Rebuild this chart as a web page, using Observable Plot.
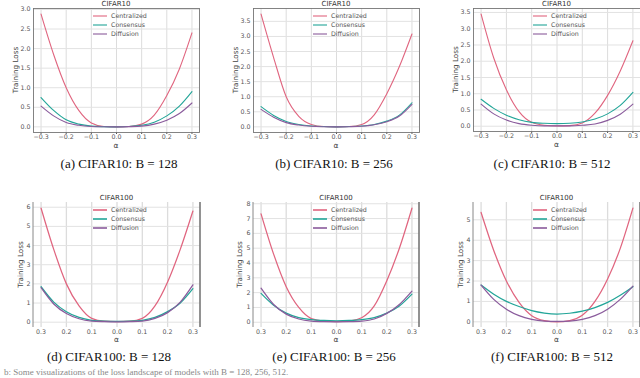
<!DOCTYPE html>
<html><head><meta charset="utf-8">
<script src="https://cdn.jsdelivr.net/npm/d3@7"></script>
<script src="https://cdn.jsdelivr.net/npm/@observablehq/plot@0.6"></script>
<style>
body{margin:0;background:#fff;}
#root{position:relative;width:640px;height:378px;overflow:hidden;background:#fff;}
.panel{position:absolute;}
.panel svg{overflow:visible;display:block;}
.cap{position:absolute;width:200px;text-align:center;font-family:"Liberation Serif","Times New Roman",serif;font-size:13px;line-height:16px;color:#111;white-space:nowrap;}
.foot{position:absolute;left:4px;top:367px;font-family:"Liberation Serif",serif;font-size:9px;line-height:10px;color:#888;white-space:nowrap;}
</style></head><body><div id="root"></div>
<script>
// ---- data ----
const alphas = [-0.3,-0.25,-0.2,-0.15,-0.1,-0.05,0,0.05,0.1,0.15,0.2,0.25,0.3];
const seriesNames = ["Centralized","Consensus","Diffusion"];
const seriesColors = ["#e0657f","#22a598","#8a5b9c"];
const xTicks = [-0.3,-0.2,-0.1,0,0.1,0.2,0.3];

const a_central   = [2.88,1.85,1.00,0.42,0.10,0.01,0.00,0.01,0.07,0.30,0.80,1.48,2.40];
const a_consensus = [0.75,0.42,0.18,0.07,0.02,0.005,0.00,0.01,0.04,0.12,0.28,0.53,0.90];
const a_diffusion = [0.53,0.28,0.11,0.04,0.01,0.003,0.00,0.005,0.02,0.07,0.17,0.34,0.61];

const b_central   = [3.74,2.30,1.00,0.35,0.08,0.01,0.00,0.01,0.08,0.40,1.10,2.00,3.08];
const b_consensus = [0.67,0.38,0.18,0.08,0.03,0.01,0.00,0.01,0.03,0.08,0.19,0.39,0.80];
const b_diffusion = [0.58,0.32,0.14,0.06,0.02,0.005,0.00,0.005,0.02,0.07,0.17,0.36,0.75];

const c_central   = [3.45,2.10,1.12,0.45,0.12,0.03,0.01,0.02,0.10,0.40,0.95,1.70,2.63];
const c_consensus = [0.83,0.55,0.34,0.20,0.12,0.09,0.08,0.09,0.13,0.22,0.38,0.64,1.04];
const c_diffusion = [0.68,0.38,0.19,0.08,0.03,0.01,0.01,0.01,0.03,0.07,0.18,0.37,0.68];

const d_central   = [5.95,3.80,2.00,0.85,0.20,0.05,0.03,0.05,0.20,0.85,2.10,3.80,5.80];
const d_consensus = [1.85,1.05,0.55,0.25,0.10,0.05,0.04,0.05,0.10,0.25,0.55,1.00,1.75];
const d_diffusion = [1.80,0.95,0.45,0.18,0.06,0.03,0.02,0.03,0.06,0.20,0.50,1.05,1.95];

const e_central   = [7.32,4.60,2.40,1.00,0.25,0.08,0.05,0.08,0.30,1.10,2.80,5.00,7.70];
const e_consensus = [1.95,1.15,0.62,0.32,0.18,0.12,0.10,0.12,0.18,0.32,0.62,1.10,1.90];
const e_diffusion = [2.30,1.20,0.55,0.22,0.08,0.04,0.03,0.04,0.08,0.22,0.60,1.20,2.10];

const f_central   = [5.36,3.50,2.00,0.95,0.30,0.06,0.00,0.06,0.32,1.00,2.10,3.60,5.57];
const f_consensus = [1.80,1.35,1.00,0.75,0.55,0.43,0.38,0.42,0.52,0.70,0.95,1.30,1.72];
const f_diffusion = [1.80,1.10,0.62,0.30,0.12,0.04,0.02,0.04,0.12,0.30,0.62,1.10,1.75];

const titles   = ["CIFAR10","CIFAR10","CIFAR10","CIFAR100","CIFAR100","CIFAR100"];
const captions = ["(a) CIFAR10: B = 128","(b) CIFAR10: B = 256","(c) CIFAR10: B = 512",
                  "(d) CIFAR100: B = 128","(e) CIFAR100: B = 256","(f) CIFAR100: B = 512"];
const yTicksList = [
  [0,0.5,1,1.5,2,2.5,3],
  [0,0.5,1,1.5,2,2.5,3,3.5],
  [0,0.5,1,1.5,2,2.5,3,3.5],
  [0,1,2,3,4,5,6],
  [0,1,2,3,4,5,6,7,8],
  [0,1,2,3,4,5]
];
const seriesByPanel = [
  [a_central,a_consensus,a_diffusion],
  [b_central,b_consensus,b_diffusion],
  [c_central,c_consensus,c_diffusion],
  [d_central,d_consensus,d_diffusion],
  [e_central,e_consensus,e_diffusion],
  [f_central,f_consensus,f_diffusion]
];

// ---- layout ----
const layouts = [
  {left:0,   top:0,   w:205, h:150, mL:33, mR:6, mT:8, mB:18, capX:119, capY:164, yl:17, row:1},
  {left:215, top:0,   w:210, h:150, mL:38, mR:6, mT:8, mB:18, capX:334, capY:164, yl:17, row:1},
  {left:430, top:0,   w:210, h:150, mL:43, mR:0, mT:8, mB:19, capX:552, capY:164, yl:16.5, row:1},
  {left:0,   top:194, w:206, h:150, mL:33, mR:6, mT:8, mB:17, capX:109, capY:357, yl:11.5, row:2},
  {left:215, top:194, w:210, h:150, mL:38, mR:6, mT:8, mB:17, capX:334, capY:357, yl:12.5, row:2},
  {left:430, top:194, w:210, h:150, mL:43, mR:0, mT:8, mB:17, capX:552, capY:357, yl:11.5, row:2}
];

const root = document.getElementById("root");
const xpad = (d3.max(alphas) - d3.min(alphas)) * 0.05;
const xDomain = [d3.min(alphas) - xpad, d3.max(alphas) + xpad];
const fmt1 = d3.format(".1f");

layouts.forEach((L, p) => {
  const rows = [];
  seriesByPanel[p].forEach((arr, s) => arr.forEach((v, i) => rows.push({a: alphas[i], v, s: seriesNames[s]})));
  const all = seriesByPanel[p].flat();
  const lo = d3.min(all), hi = d3.max(all), pad = (hi - lo) * 0.05;
  const yTicks = yTicksList[p];
  const row1 = L.row === 1;
  const plot = Plot.plot({
    width: L.w, height: L.h,
    marginLeft: L.mL, marginRight: L.mR, marginTop: L.mT, marginBottom: L.mB,
    style: {fontFamily: "DejaVu Sans, sans-serif", fontSize: "6.3px", color: "#555", background: "transparent"},
    x: {domain: xDomain, ticks: xTicks, tickSize: row1 ? 2 : 0, tickPadding: row1 ? 0.5 : 2.5, label: null,
        tickFormat: row1 ? (d => fmt1(d).replace("-", "\u2212")) : (d => fmt1(Math.abs(d)))},
    y: {domain: [lo - pad, hi + pad], ticks: yTicks, tickSize: 0, tickPadding: 3, label: null,
        tickFormat: row1 ? fmt1 : d3.format("d")},
    color: {domain: seriesNames, range: seriesColors},
    marks: [
      Plot.ruleX(xTicks, {stroke: "#dcdcdc", strokeWidth: row1 ? 1 : 1.3}),
      Plot.ruleY(yTicks, {stroke: "#e2e2e2", strokeWidth: 1}),
      Plot.line(rows, {x: "a", y: "v", z: "s", stroke: "s", strokeWidth: row1 ? 1.1 : 1.25, curve: "monotone-x"}),
      ...(row1 ? [Plot.frame({stroke: "#777", strokeWidth: 0.9})] : [])
    ]
  });
  const div = document.createElement("div");
  div.className = "panel";
  div.style.left = L.left + "px"; div.style.top = L.top + "px";
  div.appendChild(plot);
  root.appendChild(div);

  const svg = d3.select(plot);
  const fw = L.w - L.mL - L.mR, fh = L.h - L.mT - L.mB;
  const g = svg.append("g").attr("font-family", "DejaVu Sans, sans-serif").attr("text-anchor", "start");
  if (!row1) {
    g.append("line").attr("x1", L.mL).attr("x2", L.mL).attr("y1", L.mT).attr("y2", L.mT + fh)
      .attr("stroke", "#888").attr("stroke-width", 1);
    g.append("line").attr("x1", L.mL + fw).attr("x2", L.mL + fw).attr("y1", L.mT).attr("y2", L.mT + fh)
      .attr("stroke", "#777").attr("stroke-width", 1.6);
  }
  // title
  g.append("text").attr("x", L.mL + fw / 2).attr("y", L.mT - 4.2).attr("text-anchor", "middle")
    .attr("dominant-baseline", "middle").attr("font-size", 7).attr("fill", "#333").text(titles[p]);
  // y label
  g.append("text").attr("transform", `translate(${L.mL - L.yl},${L.mT + fh / 2}) rotate(-90)`)
    .attr("text-anchor", "middle").attr("dominant-baseline", "middle")
    .attr("font-size", 7.2).attr("fill", "#444").text("Training Loss");
  // x label
  g.append("text").attr("x", L.mL + fw / 2).attr("y", L.mT + fh + (row1 ? 13.5 : 12.5)).attr("text-anchor", "middle")
    .attr("dominant-baseline", "middle").attr("font-size", 7.5).attr("fill", "#444").text("\u03b1");
  // legend
  seriesNames.forEach((name, i) => {
    const yy = L.mT + 8 + 9 * i;
    g.append("line").attr("x1", L.mL + 60).attr("x2", L.mL + 74).attr("y1", yy).attr("y2", yy)
      .attr("stroke", seriesColors[i]).attr("stroke-width", row1 ? 1.1 : 1.6);
    g.append("text").attr("x", L.mL + 78).attr("y", yy).attr("dominant-baseline", "middle")
      .attr("text-anchor", "start")
      .attr("font-size", 6.3).attr("fill", "#555").text(name);
  });

  const cap = document.createElement("div");
  cap.className = "cap";
  cap.style.left = (L.capX - 100) + "px";
  cap.style.top = (L.capY - 8) + "px";
  cap.textContent = captions[p];
  root.appendChild(cap);
});

const foot = document.createElement("div");
foot.className = "foot";
foot.textContent = "b: Some visualizations of the loss landscape of models with B = 128, 256, 512.";
root.appendChild(foot);
</script>
</body></html>
